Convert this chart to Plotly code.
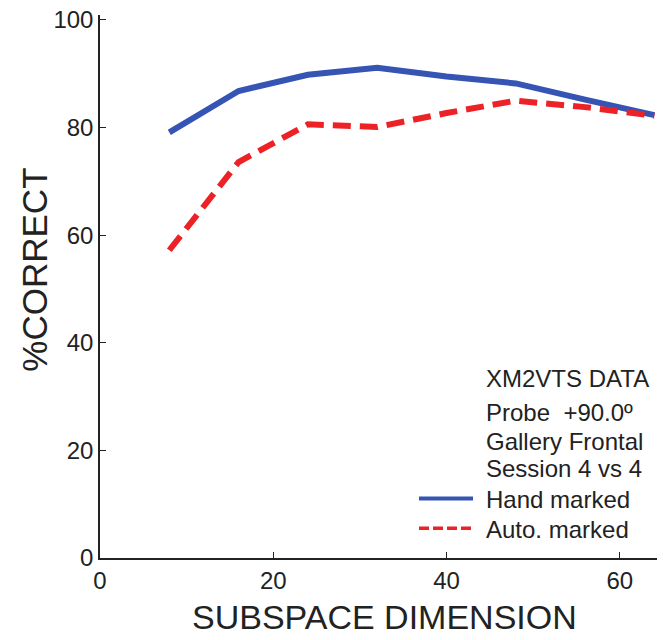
import plotly.graph_objects as go

# Subspace dimension vs recognition rate
dims = [8, 16, 24, 32, 40, 48, 56, 64]
hand_marked = [79.1, 86.8, 89.8, 91.1, 89.5, 88.2, 85.2, 82.3]
auto_marked = [57.2, 73.6, 80.6, 80.1, 82.7, 85.0, 83.8, 82.2]

x_ticks = [0, 20, 40, 60]
y_ticks = [0, 20, 40, 60, 80, 100]

info_lines = ["XM2VTS DATA", "Probe  +90.0º", "Gallery Frontal", "Session 4 vs 4"]
series_names = ["Hand marked", "Auto. marked"]

BLUE = "#3554b4"
RED = "#ec2226"
INK = "#222"
FONT = "Liberation Sans, Arial, sans-serif"

# plot area in pixels
L, R, T, B = 100, 657, 10, 558
W, H = 663, 640


def px(xp):
    return (xp - L) / (R - L)


def py(yp):
    return (B - yp) / (B - T)


fig = go.Figure()
fig.add_trace(go.Scatter(
    x=dims, y=hand_marked, mode="lines", name=series_names[0],
    line=dict(color=BLUE, width=6),
))
fig.add_trace(go.Scatter(
    x=dims, y=auto_marked, mode="lines", name=series_names[1],
    line=dict(color=RED, width=6, dash="18px,9px"),
))

# Header text of the key box
header_y = [377, 411, 440, 468]
for txt, yp in zip(info_lines, header_y):
    fig.add_annotation(
        x=px(484), y=py(yp), xref="paper", yref="paper",
        text=txt, showarrow=False, xanchor="left", yanchor="middle",
        font=dict(size=24, color=INK, family=FONT),
    )

# Key entries: sample line + series name
key_y = [498, 528]
key_styles = [dict(color=BLUE, width=4), dict(color=RED, width=3.5, dash="10px,4px")]
for name, yp, style in zip(series_names, key_y, key_styles):
    fig.add_shape(
        type="line", xref="paper", yref="paper",
        x0=px(419), x1=px(473), y0=py(yp), y1=py(yp), line=style,
    )
    fig.add_annotation(
        x=px(484), y=py(yp + 1), xref="paper", yref="paper",
        text=name, showarrow=False, xanchor="left", yanchor="middle",
        font=dict(size=24, color=INK, family=FONT),
    )

# Axis titles
fig.add_annotation(
    x=px(384), y=py(639), xref="paper", yref="paper",
    text="SUBSPACE DIMENSION", showarrow=False, xanchor="center", yanchor="bottom",
    font=dict(size=34, color=INK, family=FONT),
)
fig.add_annotation(
    x=px(35), y=py(267), xref="paper", yref="paper", textangle=-90,
    text="%CORRECT", showarrow=False, xanchor="center", yanchor="middle",
    font=dict(size=35, color=INK, family=FONT),
)

fig.update_layout(
    width=W, height=H,
    margin=dict(l=L, r=W - R, t=T, b=H - B),
    paper_bgcolor="white", plot_bgcolor="white",
    font=dict(family=FONT, color=INK),
    showlegend=False,
    xaxis=dict(
        range=[0, 64.3], tickvals=x_ticks, ticks="inside", ticklen=6,
        tickcolor=INK, showline=True, linecolor=INK, linewidth=1.5,
        showgrid=False, zeroline=False, tickfont=dict(size=24, color=INK),
    ),
    yaxis=dict(
        range=[0, 100.92], tickvals=y_ticks, ticks="inside", ticklen=6,
        tickcolor=INK, showline=True, linecolor=INK, linewidth=1.5,
        showgrid=False, zeroline=False, tickfont=dict(size=24, color=INK),
    ),
)

fig.write_html("out.html")
